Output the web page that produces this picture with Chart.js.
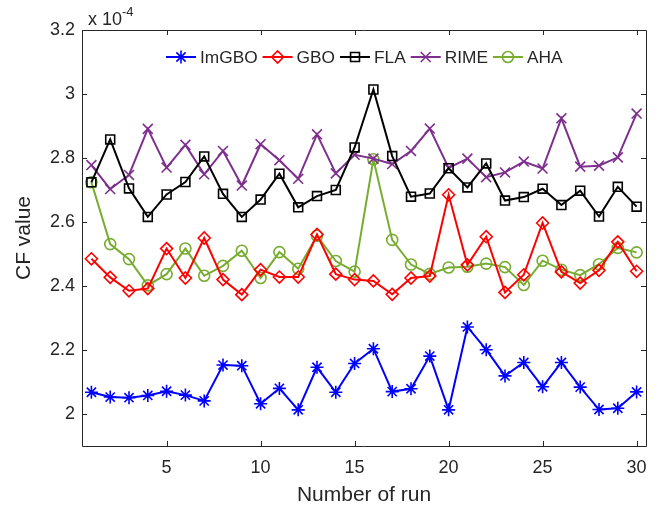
<!DOCTYPE html>
<html>
<head>
<meta charset="utf-8">
<title>CF value per run</title>
<script src="https://cdn.jsdelivr.net/npm/chart.js"></script>
<style>
  html, body { margin: 0; padding: 0; background: #fff; }
  #wrap { width: 660px; height: 510px; }
</style>
</head>
<body>
<div id="wrap"><canvas id="cf-chart" width="660" height="510"></canvas></div>
<script>
// values are in units of 1e-4
const runs = [1, 2, 3, 4, 5, 6, 7, 8, 9, 10, 11, 12, 13, 14, 15, 16, 17, 18, 19, 20, 21, 22, 23, 24, 25, 26, 27, 28, 29, 30];

const imgbo = [2.068, 2.053, 2.051, 2.058, 2.071, 2.059, 2.041, 2.153, 2.151, 2.032,
               2.080, 2.013, 2.146, 2.068, 2.158, 2.204, 2.070, 2.079, 2.181, 2.013,
               2.272, 2.201, 2.119, 2.161, 2.085, 2.161, 2.084, 2.014, 2.018, 2.069];
const gbo   = [2.485, 2.427, 2.385, 2.392, 2.517, 2.425, 2.550, 2.420, 2.373, 2.451,
               2.428, 2.428, 2.561, 2.437, 2.420, 2.416, 2.374, 2.425, 2.431, 2.685,
               2.466, 2.554, 2.380, 2.435, 2.597, 2.444, 2.409, 2.449, 2.538, 2.446];
const fla   = [2.724, 2.858, 2.705, 2.616, 2.686, 2.725, 2.805, 2.688, 2.616, 2.670,
               2.751, 2.646, 2.681, 2.700, 2.833, 3.014, 2.806, 2.679, 2.689, 2.768,
               2.708, 2.783, 2.667, 2.678, 2.704, 2.653, 2.698, 2.617, 2.710, 2.648];
const rime  = [2.778, 2.703, 2.747, 2.891, 2.770, 2.841, 2.749, 2.822, 2.714, 2.843,
               2.793, 2.735, 2.874, 2.752, 2.810, 2.798, 2.781, 2.822, 2.892, 2.769,
               2.798, 2.740, 2.755, 2.789, 2.767, 2.924, 2.773, 2.776, 2.802, 2.939];
const aha   = [2.724, 2.531, 2.484, 2.402, 2.437, 2.517, 2.432, 2.463, 2.510, 2.425,
               2.506, 2.454, 2.557, 2.478, 2.445, 2.796, 2.544, 2.467, 2.438, 2.458,
               2.460, 2.470, 2.459, 2.403, 2.479, 2.451, 2.434, 2.468, 2.519, 2.505];

const xTicks = [5, 10, 15, 20, 25, 30];
const yTicks = [2, 2.2, 2.4, 2.6, 2.8, 3, 3.2];

const FONT = '"Liberation Sans", Arial, Helvetica, sans-serif';
const AXIS_COLOR = '#262626';

function series(label, values, color, style, radius) {
    return {
        label: label,
        data: runs.map((r, i) => ({ x: r, y: values[i] })),
        borderColor: color,
        borderWidth: 2,
        pointStyle: style,
        pointRadius: radius,
        pointHoverRadius: radius,
        pointBorderColor: color,
        pointBorderWidth: 1.6,
        pointBackgroundColor: 'rgba(0,0,0,0)',
        tension: 0,
        fill: false
    };
}

// box, inward ticks, exponent label and in-axes legend
const matlabLook = {
    id: 'matlabLook',
    afterDraw(chart) {
        const ctx = chart.ctx;
        const a = chart.chartArea;
        const xs = chart.scales.x, ys = chart.scales.y;
        const tick = 5;

        ctx.save();
        ctx.strokeStyle = AXIS_COLOR;
        ctx.lineWidth = 1;
        ctx.beginPath();
        ctx.rect(Math.round(a.left) + 0.5, Math.round(a.top) + 0.5,
                 Math.round(a.right - a.left), Math.round(a.bottom - a.top));
        xTicks.forEach(v => {
            const px = Math.round(xs.getPixelForValue(v)) + 0.5;
            ctx.moveTo(px, a.bottom); ctx.lineTo(px, a.bottom - tick);
            ctx.moveTo(px, a.top); ctx.lineTo(px, a.top + tick);
        });
        yTicks.forEach(v => {
            const py = Math.round(ys.getPixelForValue(v)) + 0.5;
            ctx.moveTo(a.left, py); ctx.lineTo(a.left + tick, py);
            ctx.moveTo(a.right, py); ctx.lineTo(a.right - tick, py);
        });
        ctx.stroke();

        // exponent
        ctx.fillStyle = AXIS_COLOR;
        ctx.textBaseline = 'alphabetic';
        ctx.textAlign = 'left';
        ctx.font = '18px ' + FONT;
        ctx.fillText('x 10', a.left + 6, a.top - 5);
        const w = ctx.measureText('x 10').width;
        ctx.font = '13px ' + FONT;
        ctx.fillText('-4', a.left + 6 + w, a.top - 14);

        // legend
        const ly = 57;
        let lx = 166;
        ctx.font = '17.3px ' + FONT;
        ctx.textBaseline = 'middle';
        chart.data.datasets.forEach(ds => {
            ctx.strokeStyle = ds.borderColor;
            ctx.lineWidth = ds.borderWidth;
            ctx.beginPath();
            ctx.moveTo(lx, ly); ctx.lineTo(lx + 30, ly);
            ctx.stroke();
            ctx.lineWidth = ds.pointBorderWidth;
            ctx.fillStyle = 'rgba(0,0,0,0)';
            if (Chart.helpers && Chart.helpers.drawPoint) {
                Chart.helpers.drawPoint(ctx, {
                    pointStyle: ds.pointStyle, radius: ds.pointRadius,
                    rotation: 0, borderWidth: ds.pointBorderWidth
                }, lx + 15, ly);
            }
            ctx.fillStyle = AXIS_COLOR;
            ctx.fillText(ds.label, lx + 34, ly + 1);
            lx += 34 + ctx.measureText(ds.label).width + 5;
        });
        ctx.restore();
    }
};

new Chart(document.getElementById('cf-chart'), {
    type: 'line',
    data: {
        datasets: [
            series('ImGBO', imgbo, '#0000FF', 'star', 6.5),
            series('GBO', gbo, '#FF0000', 'rectRot', 6),
            series('FLA', fla, '#000000', 'rect', 6.3),
            series('RIME', rime, '#7E2F8E', 'crossRot', 7),
            series('AHA', aha, '#77AC30', 'circle', 5.5)
        ]
    },
    options: {
        responsive: false,
        animation: false,
        devicePixelRatio: 1,
        layout: { padding: { top: 30, right: 14, left: 0, bottom: 0 } },
        plugins: {
            legend: { display: false },
            tooltip: { enabled: false }
        },
        scales: {
            x: {
                type: 'linear',
                min: 0.5,
                max: 30.5,
                afterBuildTicks: s => { s.ticks = xTicks.map(v => ({ value: v })); },
                afterFit: s => { s.height = 64; },
                grid: { display: false, drawTicks: false },
                border: { display: false },
                ticks: {
                    color: AXIS_COLOR,
                    font: { family: FONT, size: 18 },
                    padding: 11,
                    maxRotation: 0,
                    autoSkip: false
                },
                title: {
                    display: true,
                    text: 'Number of run',
                    color: AXIS_COLOR,
                    font: { family: FONT, size: 21 },
                    padding: { top: 0, bottom: 2 }
                }
            },
            y: {
                min: 1.9,
                max: 3.2,
                afterBuildTicks: s => { s.ticks = yTicks.map(v => ({ value: v })); },
                afterFit: s => { s.width = 82; },
                grid: { display: false, drawTicks: false },
                border: { display: false },
                ticks: {
                    color: AXIS_COLOR,
                    font: { family: FONT, size: 18 },
                    padding: 7,
                    autoSkip: false,
                    callback: v => String(Math.round(v * 10) / 10)
                },
                title: {
                    display: true,
                    text: 'CF value',
                    color: AXIS_COLOR,
                    font: { family: FONT, size: 21 },
                    padding: { top: 12, bottom: 0 }
                }
            }
        }
    },
    plugins: [matlabLook]
});
</script>
</body>
</html>
